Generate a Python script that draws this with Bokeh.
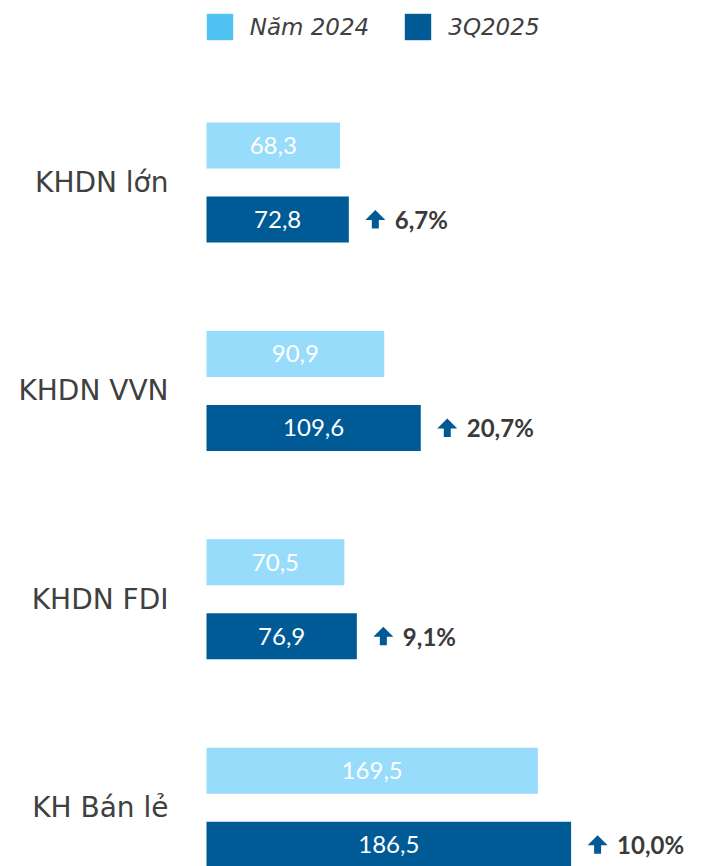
from bokeh.plotting import figure
from bokeh.models import Range1d, ColumnDataSource, Legend, LegendItem
from bokeh.core.properties import value
from bokeh.embed import file_html
from bokeh.resources import INLINE

# ---- data ----
categories = ["KHDN lớn", "KHDN VVN", "KHDN FDI", "KH Bán lẻ"]
values_2024 = [68.3, 90.9, 70.5, 169.5]
values_3q2025 = [72.8, 109.6, 76.9, 186.5]
growth_pct = [6.7, 20.7, 9.1, 10.0]
series_names = ["Năm 2024", "3Q2025"]

# ---- layout / style ----
W, H = 707, 866
PX_PER_UNIT = 1.955
X0_PX = 206.0
GROUP_PX = 208.36
G0_PX = 182.1
OFF = 37 / GROUP_PX
BAR_H = 46 / GROUP_PX

LIGHT = "#97DCFA"
LIGHT_LEGEND = "#4FC3F1"
DARK = "#005A96"
TXT = "#404040"


def fmt(v):
    return f"{v:.1f}".replace(".", ",")


def px_x(px):
    return px / PX_PER_UNIT


def px_y(px):
    return px / GROUP_PX


p = figure(width=W, height=H, output_backend="svg", toolbar_location=None,
           x_range=Range1d(-X0_PX / PX_PER_UNIT, (W - X0_PX) / PX_PER_UNIT),
           y_range=Range1d((H - G0_PX) / GROUP_PX, -G0_PX / GROUP_PX),
           x_axis_type=None, y_axis_type=None, min_border=0)
p.grid.visible = False
p.outline_line_color = None

idx = list(range(len(categories)))
src = ColumnDataSource(dict(
    g=idx,
    cat=categories,
    y_light=[i - OFF for i in idx],
    y_dark=[i + OFF for i in idx],
    v24=values_2024,
    v25=values_3q2025,
    l24=[fmt(v) for v in values_2024],
    l25=[fmt(v) for v in values_3q2025],
    c24=[v / 2 for v in values_2024],
    c25=[v / 2 for v in values_3q2025],
    gx=[v + px_x(46) for v in values_3q2025],
    gl=[fmt(g) + "%" for g in growth_pct],
    lx=[-px_x(38)] * len(categories),
))

p.hbar(y="y_light", left=0, right="v24", height=BAR_H, source=src,
       fill_color=LIGHT, line_color=None)
p.hbar(y="y_dark", left=0, right="v25", height=BAR_H, source=src,
       fill_color=DARK, line_color=None)

# value labels inside bars
p.text(x="c24", y="y_light", text="l24", source=src, text_align="center",
       text_baseline="middle", text_color="white", text_font=value("Lato"),
       text_font_size="24px")
p.text(x="c25", y="y_dark", text="l25", source=src, text_align="center",
       text_baseline="middle", text_color="white", text_font=value("Lato"),
       text_font_size="24px")

# category labels
p.text(x="lx", y="g", text="cat", source=src, text_align="right",
       text_baseline="middle", text_color=TXT, text_font=value("DejaVu Sans"),
       text_font_size="28px")

# growth labels
p.text(x="gx", y="y_dark", text="gl", source=src, text_align="left",
       text_baseline="middle", text_color="#3A3A3A", text_font=value("Lato"),
       text_font_style="bold", text_font_size="24px")

# up arrows
shape = [(0, -9.5), (10, 0.5), (3.5, 0.5), (3.5, 9), (-3.5, 9), (-3.5, 0.5), (-10, 0.5)]
xs, ys = [], []
for v, yc in zip(values_3q2025, src.data["y_dark"]):
    cx = v + px_x(26.5)
    xs.append([cx + px_x(dx) for dx, dy in shape])
    ys.append([yc + px_y(dy) for dx, dy in shape])
p.patches(xs, ys, fill_color=DARK, line_color=None)

# legend (dummy renderers, placed outside the visible range)
r1 = p.hbar(y=[100], right=[1], height=0.1, fill_color=LIGHT_LEGEND, line_color=None)
r2 = p.hbar(y=[100], right=[1], height=0.1, fill_color=DARK, line_color=None)
legend = Legend(items=[LegendItem(label=series_names[0], renderers=[r1]),
                       LegendItem(label=series_names[1], renderers=[r2])],
                orientation="horizontal", location=(202.7, 823),
                glyph_width=33, glyph_height=33, label_standoff=14, spacing=32,
                padding=0, margin=0, border_line_color=None,
                background_fill_alpha=0,
                label_text_font="DejaVu Sans", label_text_font_style="italic",
                label_text_font_size="23px", label_text_color=TXT)
p.add_layout(legend)

open("out.html", "w").write(file_html(p, INLINE))
